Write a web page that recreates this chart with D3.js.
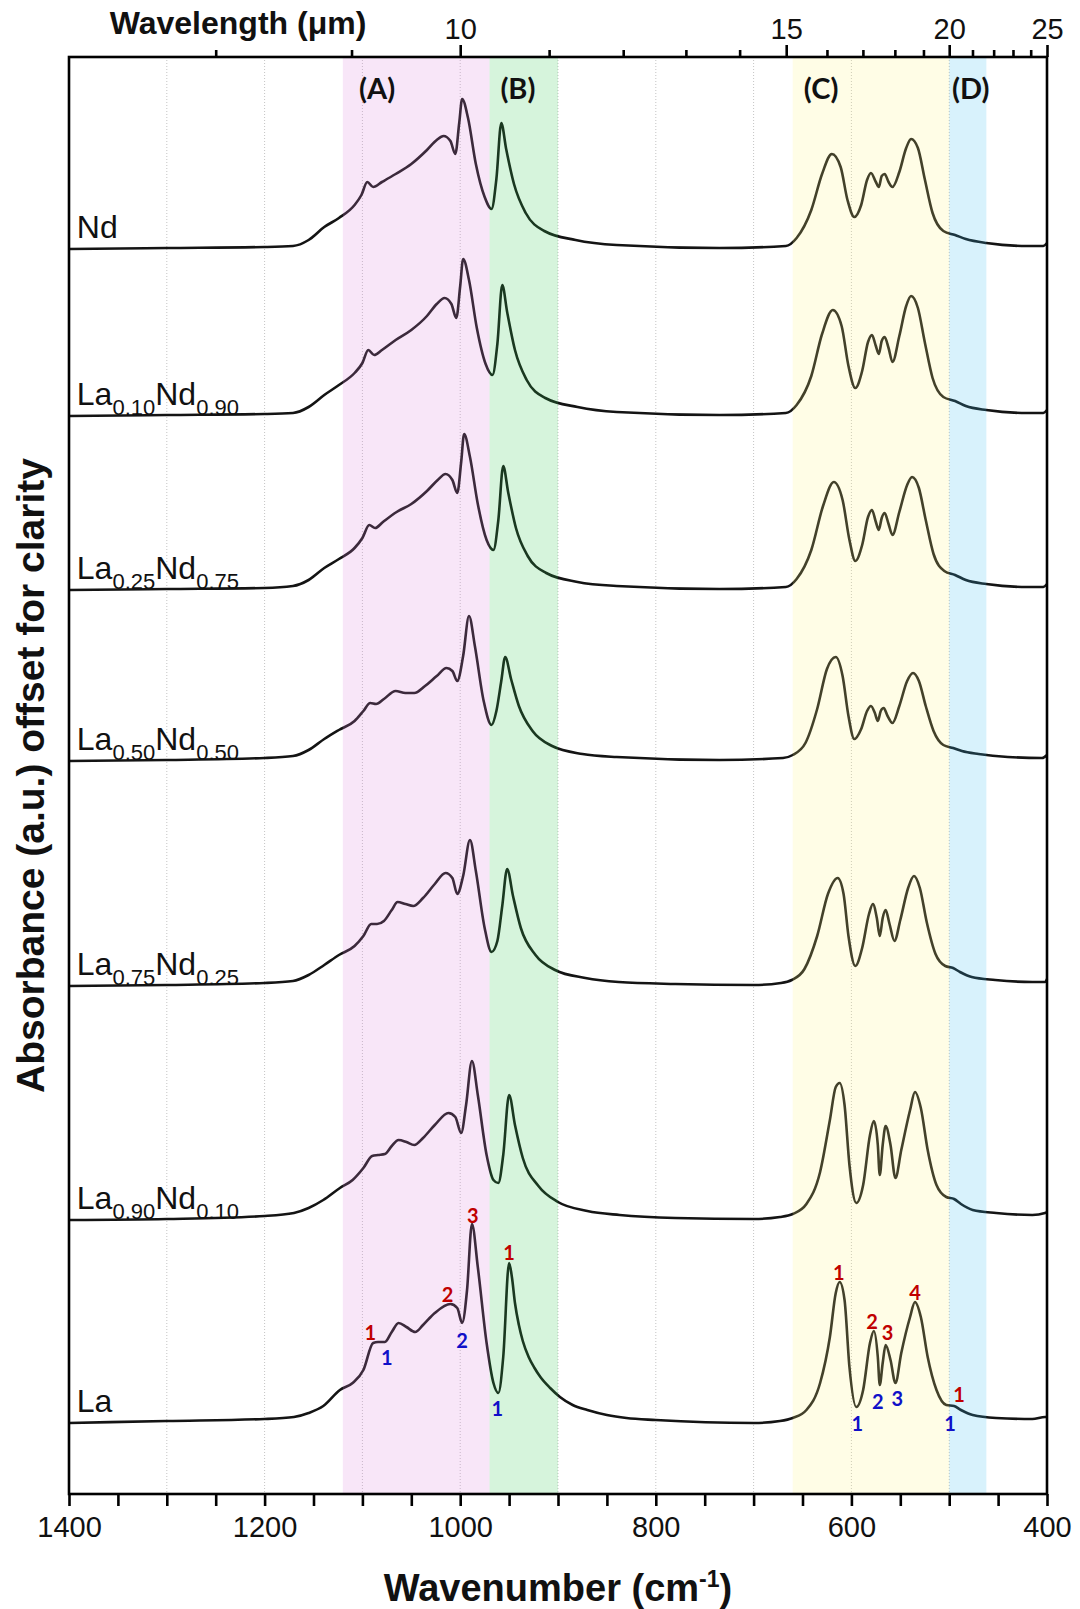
<!DOCTYPE html>
<html>
<head>
<meta charset="utf-8">
<script src="https://cdn.jsdelivr.net/npm/d3@7/dist/d3.min.js"></script>
<style>
body { margin: 0; background: #fff; }
svg { display: block; font-family: "Liberation Sans", Arial, sans-serif; }
</style>
</head>
<body>
<svg id="chart" width="1080" height="1609"></svg>
<script>
// ---- data (wavenumber cm-1, absorbance above own baseline) ----
const seriesNames = ["Nd", "La0.10Nd0.90", "La0.25Nd0.75", "La0.50Nd0.50", "La0.75Nd0.25", "La0.90Nd0.10", "La"]
const seriesLabels = [
	["Nd"],
	["La", "0.10", "Nd", "0.90"],
	["La", "0.25", "Nd", "0.75"],
	["La", "0.50", "Nd", "0.50"],
	["La", "0.75", "Nd", "0.25"],
	["La", "0.90", "Nd", "0.10"],
	["La"]
]
const offsets = [12.45, 10.78, 9.04, 7.33, 5.08, 2.74, 0.71]

const nd = [[1400,0],[1300,0.01],[1200,0.02],[1171,0.03],[1155,0.09],[1139,0.22],[1124,0.31],[1108,0.44],[1101,0.54],[1095,0.67],[1089,0.62],[1080,0.67],[1066,0.75],[1050,0.85],[1034,0.99],[1024,1.09],[1017,1.13],[1010,1.08],[1005,0.95],[1001,1.26],[998,1.50],[992,1.31],[984,0.85],[975,0.52],[968,0.40],[963,0.70],[958,1.26],[953,1.00],[945,0.65],[933,0.36],[914,0.18],[882,0.09],[840,0.04],[735,0.01],[667,0.03],[656,0.11],[641,0.39],[630,0.75],[620,0.95],[611,0.82],[604,0.49],[597,0.32],[590,0.44],[584,0.69],[580,0.76],[575,0.67],[572,0.62],[569,0.73],[566,0.75],[562,0.67],[558,0.62],[551,0.77],[544,1.01],[539,1.10],[532,1.01],[525,0.70],[517,0.36],[506,0.18],[494,0.14],[483,0.10],[462,0.06],[420,0.03],[404,0.03],[400,0.06]]

const la10 = [[1400,0],[1300,0.01],[1200,0.02],[1171,0.03],[1155,0.09],[1139,0.21],[1124,0.31],[1108,0.43],[1100,0.53],[1094,0.66],[1088,0.61],[1080,0.66],[1066,0.76],[1050,0.86],[1034,1.00],[1024,1.12],[1016,1.18],[1009,1.12],[1004,0.98],[1000,1.30],[997,1.57],[991,1.36],[983,0.88],[974,0.52],[967,0.41],[962,0.72],[957,1.31],[952,1.04],[944,0.66],[932,0.36],[913,0.18],[880,0.09],[840,0.04],[735,0.01],[667,0.03],[656,0.11],[641,0.40],[630,0.82],[619,1.06],[610,0.90],[603,0.50],[596,0.28],[589,0.45],[583,0.74],[579,0.81],[575,0.70],[572,0.62],[569,0.75],[566,0.79],[562,0.68],[558,0.54],[551,0.80],[544,1.10],[539,1.20],[532,1.08],[525,0.74],[517,0.38],[506,0.19],[494,0.15],[483,0.10],[462,0.06],[420,0.03],[404,0.03],[400,0.06]]

const la25 = [[1400,0],[1300,0.01],[1200,0.02],[1171,0.04],[1155,0.10],[1139,0.22],[1124,0.31],[1108,0.42],[1100,0.52],[1093,0.65],[1087,0.62],[1079,0.68],[1065,0.78],[1050,0.86],[1034,0.99],[1023,1.10],[1015,1.16],[1008,1.10],[1003,0.97],[999,1.28],[996,1.56],[990,1.33],[982,0.86],[973,0.50],[966,0.40],[961,0.70],[956,1.24],[951,0.98],[943,0.62],[931,0.34],[912,0.17],[880,0.08],[840,0.04],[735,0.01],[667,0.03],[656,0.11],[641,0.40],[629,0.84],[618,1.08],[609,0.90],[602,0.50],[596,0.29],[589,0.45],[583,0.73],[579,0.80],[575,0.68],[572,0.60],[569,0.72],[566,0.77],[562,0.66],[558,0.55],[551,0.78],[543,1.05],[538,1.13],[531,1.02],[524,0.70],[516,0.36],[505,0.19],[494,0.15],[483,0.10],[462,0.06],[420,0.03],[404,0.03],[400,0.06]]

const la50 = [[1400,0],[1300,0.01],[1200,0.03],[1171,0.05],[1155,0.11],[1139,0.22],[1124,0.31],[1108,0.40],[1099,0.50],[1092,0.58],[1086,0.57],[1078,0.62],[1066,0.70],[1056,0.68],[1047,0.68],[1036,0.75],[1024,0.85],[1014,0.93],[1008,0.90],[1003,0.80],[997,1.05],[991,1.45],[985,1.15],[976,0.60],[968,0.36],[963,0.50],[958,0.80],[954,1.04],[948,0.82],[940,0.55],[926,0.30],[906,0.15],[875,0.07],[840,0.04],[735,0.01],[670,0.03],[660,0.06],[647,0.18],[635,0.52],[625,0.92],[616,1.04],[609,0.85],[603,0.45],[597,0.22],[590,0.32],[584,0.50],[580,0.55],[576,0.48],[573,0.40],[570,0.50],[567,0.53],[563,0.45],[558,0.38],[551,0.55],[543,0.80],[537,0.88],[531,0.80],[524,0.55],[516,0.30],[506,0.16],[496,0.13],[487,0.10],[470,0.07],[440,0.04],[405,0.03],[400,0.06]]

const la75 = [[1400,0],[1300,0.01],[1200,0.03],[1171,0.05],[1155,0.11],[1139,0.21],[1124,0.31],[1108,0.40],[1099,0.50],[1091,0.62],[1085,0.62],[1078,0.65],[1070,0.76],[1064,0.84],[1056,0.82],[1048,0.80],[1038,0.88],[1026,1.02],[1015,1.13],[1008,1.08],[1003,0.92],[997,1.10],[990,1.46],[984,1.15],[975,0.58],[968,0.34],[962,0.45],[957,0.80],[952,1.17],[946,0.90],[938,0.58],[923,0.31],[903,0.16],[872,0.08],[838,0.04],[780,0.02],[700,0.01],[672,0.03],[661,0.06],[648,0.17],[635,0.50],[624,0.92],[614,1.08],[608,0.92],[603,0.50],[596,0.20],[589,0.38],[582,0.72],[578,0.82],[574,0.68],[571,0.50],[568,0.68],[565,0.76],[561,0.62],[556,0.45],[550,0.66],[542,0.98],[536,1.10],[530,0.98],[523,0.64],[514,0.32],[504,0.20],[496,0.18],[489,0.14],[477,0.09],[453,0.06],[415,0.04],[402,0.04],[400,0.07]]

const la90 = [[1400,0],[1300,0.01],[1200,0.04],[1170,0.07],[1155,0.12],[1140,0.20],[1123,0.32],[1110,0.40],[1099,0.52],[1090,0.64],[1084,0.65],[1077,0.66],[1070,0.74],[1063,0.80],[1055,0.78],[1047,0.75],[1038,0.82],[1026,0.95],[1012,1.07],[1005,1.03],[999,0.87],[994,1.15],[988,1.59],[982,1.25],[973,0.65],[966,0.40],[961,0.37],[956,0.65],[950,1.25],[944,0.95],[936,0.62],[920,0.34],[900,0.18],[870,0.09],[837,0.05],[780,0.02],[700,0.01],[673,0.03],[660,0.06],[646,0.16],[632,0.48],[622,1.00],[616,1.33],[612,1.37],[607,1.15],[602,0.55],[595,0.17],[588,0.35],[581,0.85],[577,0.99],[573,0.75],[571,0.45],[568,0.75],[565,0.94],[560,0.75],[555,0.42],[549,0.70],[540,1.10],[535,1.28],[529,1.12],[522,0.70],[513,0.35],[503,0.23],[495,0.21],[488,0.16],[476,0.10],[452,0.07],[415,0.05],[402,0.07],[400,0.08]]

const la = [[1400,0],[1300,0.02],[1200,0.04],[1170,0.06],[1155,0.10],[1140,0.17],[1123,0.33],[1110,0.40],[1099,0.53],[1089,0.80],[1084,0.81],[1077,0.81],[1070,0.91],[1063,1.00],[1055,0.96],[1046,0.91],[1038,0.98],[1026,1.10],[1010,1.19],[1003,1.15],[998,1.00],[993,1.33],[988,1.99],[982,1.56],[973,0.80],[966,0.40],[961,0.30],[956,0.66],[950,1.60],[947,1.45],[944,1.20],[940,0.98],[936,0.82],[930,0.66],[924,0.55],[918,0.46],[908,0.35],[898,0.26],[885,0.18],[870,0.13],[850,0.08],[830,0.05],[800,0.03],[700,0.00],[673,0.02],[660,0.05],[646,0.13],[632,0.40],[622,0.86],[616,1.30],[612,1.41],[607,1.23],[602,0.56],[595,0.16],[588,0.33],[581,0.80],[577,0.92],[573,0.66],[571,0.38],[568,0.60],[565,0.78],[560,0.63],[555,0.40],[549,0.70],[540,1.06],[535,1.21],[529,1.06],[522,0.66],[513,0.33],[503,0.18],[495,0.17],[488,0.13],[476,0.08],[452,0.05],[415,0.04],[402,0.06],[400,0.06]]

const spectra = [nd, la10, la25, la50, la75, la90, la]

// shaded regions
const bandLabels = ["(A)", "(B)", "(C)", "(D)"]
const bandFrom   = [1120, 970, 660, 500]
const bandTo     = [970, 900, 500, 462]
const bandColors = ["rgb(220,130,220)", "rgb(50,200,80)", "rgb(255,245,130)", "rgb(60,190,240)"]
const bandLabelWn = [1085, 941, 631, 478]

// peak / minimum markers on the La spectrum
const markWn    = [1092, 1075, 1013, 998, 987, 950, 962, 613, 594, 579, 573, 563, 553, 535, 499, 490]
const markY     = [1.62, 1.37, 2.00, 1.54, 2.79, 2.42, 0.86, 2.22, 0.71, 1.73, 0.93, 1.62, 0.96, 2.02, 0.71, 1.00]
const markText  = ["1", "1", "2", "2", "3", "1", "1", "1", "1", "2", "2", "3", "3", "4", "1", "1"]
const markColor = ["r", "b", "r", "b", "r", "r", "b", "r", "b", "r", "b", "r", "b", "r", "b", "r"]

// axes
const wnTicks = [1400, 1200, 1000, 800, 600, 400]
const wnMinor = [1350, 1300, 1250, 1150, 1100, 1050, 950, 900, 850, 750, 700, 650, 550, 500, 450]
const wnGrid  = [1300, 1200, 1100, 1000, 900, 800, 700, 600, 500]
const umTicks = [10, 15, 20, 25]
const umMinor = [8, 9, 11, 12, 13, 14, 16, 17, 18, 19, 21, 22, 23, 24]

// ---- layout ----
const plotL = 69, plotR = 1047, plotT = 57, plotB = 1494

const svg = d3.select("#chart")

const x = d3.scaleLinear().domain([1400, 400]).range([plotL, plotR])
const y = d3.scaleLinear().domain([0, 14.37]).range([plotB, plotT])

// dotted grid
svg.append("g")
	.selectAll("line")
	.data(wnGrid)
	.join("line")
	.attr("x1", d => x(d)).attr("x2", d => x(d))
	.attr("y1", plotT).attr("y2", plotB)
	.attr("stroke", "#c4c4c4")
	.attr("stroke-width", 1)
	.attr("stroke-dasharray", "1,2")

// spectra
const line = d3.line()
	.x(d => x(d[0]))
	.curve(d3.curveMonotoneX)

svg.append("g")
	.selectAll("path")
	.data(spectra)
	.join("path")
	.attr("d", (d, i) => line.y(p => y(p[1] + offsets[i]))(d))
	.attr("fill", "none")
	.attr("stroke", "#141414")
	.attr("stroke-width", 2.6)
	.attr("stroke-linejoin", "round")

// translucent bands sit on top, that is why the curves get tinted inside them
svg.append("g")
	.selectAll("rect")
	.data(bandLabels)
	.join("rect")
	.attr("x", (d, i) => x(bandFrom[i]))
	.attr("width", (d, i) => x(bandTo[i]) - x(bandFrom[i]))
	.attr("y", plotT)
	.attr("height", plotB - plotT)
	.attr("fill", (d, i) => bandColors[i])
	.attr("fill-opacity", 0.2)

svg.append("g")
	.selectAll("text")
	.data(bandLabels)
	.join("text")
	.attr("x", (d, i) => x(bandLabelWn[i]))
	.attr("y", y(14.07))
	.attr("text-anchor", "middle")
	.attr("dominant-baseline", "central")
	.style("font-family", "Lato, 'Open Sans', sans-serif")
	.style("font-weight", "bold")
	.style("font-size", "29px")
	.attr("fill", "#111")
	.text(d => d)

// series labels with subscripts
const labels = svg.append("g")
seriesLabels.forEach(function(parts, i){
	const t = labels.append("text")
		.attr("x", x(1392))
		.attr("y", y(offsets[i]) - 11)
		.style("font-size", "32px")
		.attr("fill", "#111")
	parts.forEach(function(p, k){
		const sub = k % 2 == 1
		t.append("tspan")
			.attr("dy", sub ? 10 : (k > 0 ? -10 : 0))
			.style("font-size", sub ? "22px" : "32px")
			.text(p)
	})
})

// numbered markers
svg.append("g")
	.selectAll("text")
	.data(markText)
	.join("text")
	.attr("x", (d, i) => x(markWn[i]))
	.attr("y", (d, i) => y(markY[i]))
	.attr("text-anchor", "middle")
	.attr("dominant-baseline", "central")
	.style("font-family", "Lato, 'Open Sans', sans-serif")
	.style("font-weight", "bold")
	.style("font-size", "20px")
	.attr("fill", (d, i) => markColor[i] == "r" ? "#c00000" : "#1010c8")
	.text(d => d)

// frame
svg.append("rect")
	.attr("x", plotL).attr("y", plotT)
	.attr("width", plotR - plotL).attr("height", plotB - plotT)
	.attr("fill", "none")
	.attr("stroke", "#000")
	.attr("stroke-width", 2.6)

// bottom axis
svg.append("g")
	.attr("transform", `translate(0,${plotB})`)
	.call(d3.axisBottom(x).tickValues(wnTicks).tickSize(12).tickPadding(10).tickFormat(d3.format("d")))
svg.append("g")
	.attr("transform", `translate(0,${plotB})`)
	.call(d3.axisBottom(x).tickValues(wnMinor).tickSize(12).tickFormat(""))

// top axis in wavelength
svg.append("g")
	.attr("transform", `translate(0,${plotT})`)
	.call(d3.axisTop(x).tickValues(umTicks.map(u => 10000 / u)).tickSize(12).tickPadding(6)
		.tickFormat((d, i) => umTicks[i]))
svg.append("g")
	.attr("transform", `translate(0,${plotT})`)
	.call(d3.axisTop(x).tickValues(umMinor.map(u => 10000 / u)).tickSize(7).tickFormat(""))

svg.selectAll(".domain").remove()
svg.selectAll(".tick line").attr("stroke", "#000").attr("stroke-width", 2.6)
svg.selectAll(".tick text")
	.style("font-family", "'Liberation Sans', Arial, sans-serif")
	.style("font-size", "29px")
	.attr("fill", "#111")

// titles
const xt = svg.append("text")
	.attr("x", (plotL + plotR) / 2)
	.attr("y", 1601)
	.attr("text-anchor", "middle")
	.style("font-weight", "bold")
	.style("font-size", "38px")
	.attr("fill", "#111")
xt.append("tspan").text("Wavenumber (cm")
xt.append("tspan").attr("dy", -14).style("font-size", "23px").text("-1")
xt.append("tspan").attr("dy", 14).text(")")

svg.append("text")
	.attr("transform", `translate(44,${(plotT + plotB) / 2}) rotate(-90)`)
	.attr("text-anchor", "middle")
	.style("font-weight", "bold")
	.style("font-size", "39px")
	.attr("fill", "#111")
	.text("Absorbance (a.u.) offset for clarity")

svg.append("text")
	.attr("x", 238)
	.attr("y", 34)
	.attr("text-anchor", "middle")
	.style("font-weight", "bold")
	.style("font-size", "32px")
	.attr("fill", "#111")
	.text("Wavelength (\u03bcm)")
</script>
</body>
</html>
